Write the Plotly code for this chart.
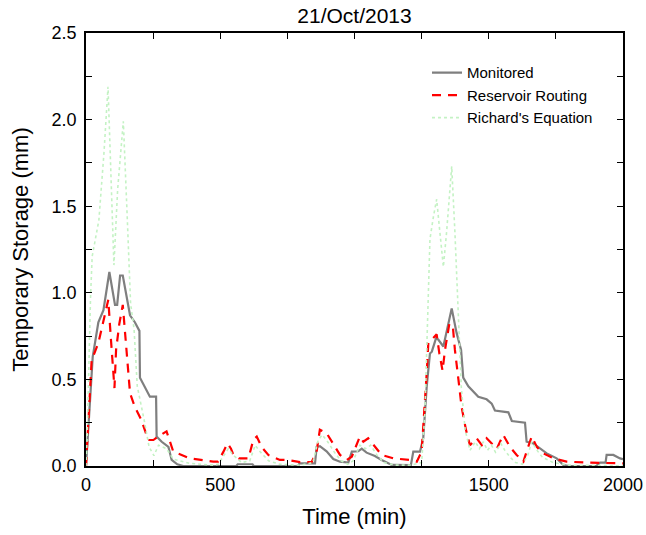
import plotly.graph_objects as go

# Monitored
mon_t = [0, 9, 25, 46, 65, 87, 108, 116, 127, 137,
         164, 182, 199, 201, 226, 238, 261, 263, 282, 307,
         319, 340, 362, 560, 565, 620, 625, 790, 795, 853,
         859, 871, 896, 921, 946, 977, 990, 1014, 1027, 1045,
         1076, 1101, 1139, 1170, 1210, 1219, 1244, 1256, 1269, 1281,
         1288, 1304, 1312, 1331, 1362, 1380, 1397, 1405, 1424, 1461,
         1492, 1511, 1523, 1573, 1586, 1635, 1641, 1666, 1691, 1716,
         1753, 1778, 1800, 1900, 1915, 1935, 1939, 1964, 1989, 2000]
mon_v = [0, 0.25, 0.63, 0.83, 0.90, 1.12, 0.93, 0.93, 1.10, 1.10,
         0.87, 0.83, 0.78, 0.51, 0.44, 0.40, 0.40, 0.17, 0.14, 0.11,
         0.035, 0.01, 0, 0, 0.01, 0.01, 0, 0, 0.015, 0.015,
         0.11, 0.115, 0.085, 0.04, 0.025, 0.02, 0.083, 0.085, 0.10, 0.077,
         0.058, 0.035, 0.006, 0.005, 0.005, 0.083, 0.083, 0.16, 0.46, 0.65,
         0.66, 0.74, 0.73, 0.69, 0.91, 0.77, 0.67, 0.51, 0.46, 0.40,
         0.385, 0.36, 0.32, 0.31, 0.26, 0.25, 0.14, 0.13, 0.10, 0.073,
         0.044, 0.006, 0, 0, 0.02, 0.02, 0.064, 0.064, 0.044, 0.04]

# Reservoir Routing
res_t = [0, 21, 46, 62, 83, 92, 106, 112, 124, 137,
         149, 164, 182, 205, 232, 251, 269, 300, 325, 387,
         474, 492, 511, 527, 540, 549, 570, 605, 623, 636,
         654, 679, 722, 752, 797, 840, 859, 871, 896, 921,
         946, 971, 990, 1020, 1033, 1051, 1076, 1101, 1145, 1207,
         1232, 1250, 1269, 1275, 1288, 1306, 1316, 1328, 1337, 1353,
         1366, 1374, 1387, 1399, 1415, 1430, 1455, 1474, 1492, 1517,
         1530, 1554, 1579, 1604, 1629, 1641, 1660, 1679, 1703, 1741,
         1790, 1865, 1939, 2000]
res_v = [0, 0.61, 0.71, 0.82, 0.96, 0.75, 0.45, 0.67, 0.82, 0.93,
         0.71, 0.42, 0.34, 0.27, 0.15, 0.15, 0.17, 0.20, 0.083, 0.044,
         0.025, 0.025, 0.08, 0.13, 0.10, 0.064, 0.044, 0.044, 0.15, 0.17,
         0.11, 0.064, 0.035, 0.035, 0.022, 0.022, 0.083, 0.21, 0.19, 0.13,
         0.064, 0.035, 0.054, 0.17, 0.14, 0.16, 0.11, 0.064, 0.044, 0.035,
         0.025, 0.083, 0.54, 0.71, 0.73, 0.76, 0.65, 0.55, 0.67, 0.82,
         0.81, 0.67, 0.50, 0.34, 0.21, 0.12, 0.16, 0.12, 0.16, 0.12,
         0.10, 0.18, 0.11, 0.064, 0.025, 0.083, 0.17, 0.11, 0.073, 0.044,
         0.025, 0.02, 0.017, 0.015]

# Richard's Equation
ric_t = [0, 5, 17, 23, 48, 67, 82, 93, 104, 118,
         139, 154, 166, 179, 191, 216, 235, 253, 270, 300,
         325, 387, 474, 492, 515, 530, 550, 580, 610, 630,
         650, 680, 722, 800, 845, 865, 880, 900, 925, 950,
         975, 995, 1020, 1040, 1060, 1085, 1110, 1150, 1210, 1250,
         1262, 1269, 1275, 1281, 1294, 1306, 1318, 1331, 1343, 1362,
         1374, 1387, 1398, 1412, 1430, 1450, 1465, 1480, 1495, 1510, 1525,
         1545, 1560, 1580, 1600, 1625, 1645, 1660, 1680, 1700, 1740,
         1800, 1900, 2000]
ric_v = [0, 0.2, 0.98, 1.21, 1.42, 1.81, 2.19, 1.6, 1.16, 1.6,
         1.99, 1.42, 0.94, 0.79, 0.46, 0.27, 0.11, 0.06, 0.12, 0.10,
         0.04, 0.015, 0.005, 0.01, 0.06, 0.10, 0.06, 0.02, 0.03, 0.12,
         0.08, 0.03, 0.01, 0.005, 0.02, 0.15, 0.18, 0.14, 0.08, 0.03,
         0.01, 0.03, 0.12, 0.10, 0.12, 0.06, 0.02, 0.005, 0.005, 0.02,
         0.3, 0.71, 1.02, 1.31, 1.44, 1.54, 1.35, 1.15, 1.35, 1.73,
         1.35, 0.81, 0.45, 0.21, 0.09, 0.14, 0.10, 0.14, 0.09, 0.12, 0.08,
         0.13, 0.09, 0.05, 0.02, 0.01, 0.06, 0.14, 0.09, 0.05, 0.02,
         0.005, 0.002, 0.001]

x_ticks = [0, 500, 1000, 1500, 2000]
y_ticks = [0, 0.5, 1.0, 1.5, 2.0, 2.5]
y_tick_text = ["0.0", "0.5", "1.0", "1.5", "2.0", "2.5"]

assert len(mon_t) == len(mon_v)
assert len(res_t) == len(res_v)
assert len(ric_t) == len(ric_v)

FONT = "Liberation Sans, Arial, Helvetica, sans-serif"

W, H = 646, 535

fig = go.Figure()
fig.add_trace(go.Scatter(x=mon_t, y=mon_v, mode="lines", name="Monitored",
                         line=dict(color="#7f7f7f", width=2.2)))
fig.add_trace(go.Scatter(x=res_t, y=res_v, mode="lines", name="Reservoir Routing",
                         line=dict(color="#ff0000", width=2.2, dash="9px,7px")))
fig.add_trace(go.Scatter(x=ric_t, y=ric_v, mode="lines", name="Richard's Equation",
                         line=dict(color="#c4f2c4", width=1.6, dash="dot")))

axis_common = dict(showline=True, linecolor="black", linewidth=1.5, mirror="ticks",
                   ticks="inside", ticklen=6, tickwidth=1.2, tickcolor="black",
                   showgrid=False, zeroline=False, automargin=False,
                   tickfont=dict(family=FONT, size=18, color="black"))

fig.update_xaxes(range=[0, 2000], tickvals=x_ticks,
                 minor=dict(ticks="inside", dtick=250, ticklen=6, tickwidth=1.2, tickcolor="black"),
                 ticklabelstandoff=2,
                 title=dict(text="Time (min)", font=dict(family=FONT, size=22, color="black"), standoff=14),
                 **axis_common)
fig.update_yaxes(range=[0, 2.5], tickvals=y_ticks, ticktext=y_tick_text,
                 minor=dict(ticks="inside", dtick=0.25, ticklen=6, tickwidth=1.2, tickcolor="black"),
                 ticklabelstandoff=4,
                 title=dict(text="Temporary Storage (mm)", font=dict(family=FONT, size=22, color="black"), standoff=17),
                 **axis_common)

fig.update_layout(
    width=W, height=H,
    margin=dict(l=86, r=23, t=33, b=69),
    paper_bgcolor="white", plot_bgcolor="white",
    title=dict(text="21/Oct/2013", x=0.5, xref="paper", xanchor="center",
               y=1, yref="container", yanchor="top", pad=dict(t=8, b=0),
               font=dict(family=FONT, size=21, color="black")),
    legend=dict(x=0.635, y=0.946, xanchor="left", yanchor="top",
                bgcolor="rgba(0,0,0,0)", borderwidth=0,
                font=dict(family=FONT, size=15, color="black"),
                tracegroupgap=0),
    showlegend=True,
)

fig.write_html("out.html", config={"displayModeBar": False},
               post_script="document.body.style.margin='0px';")
